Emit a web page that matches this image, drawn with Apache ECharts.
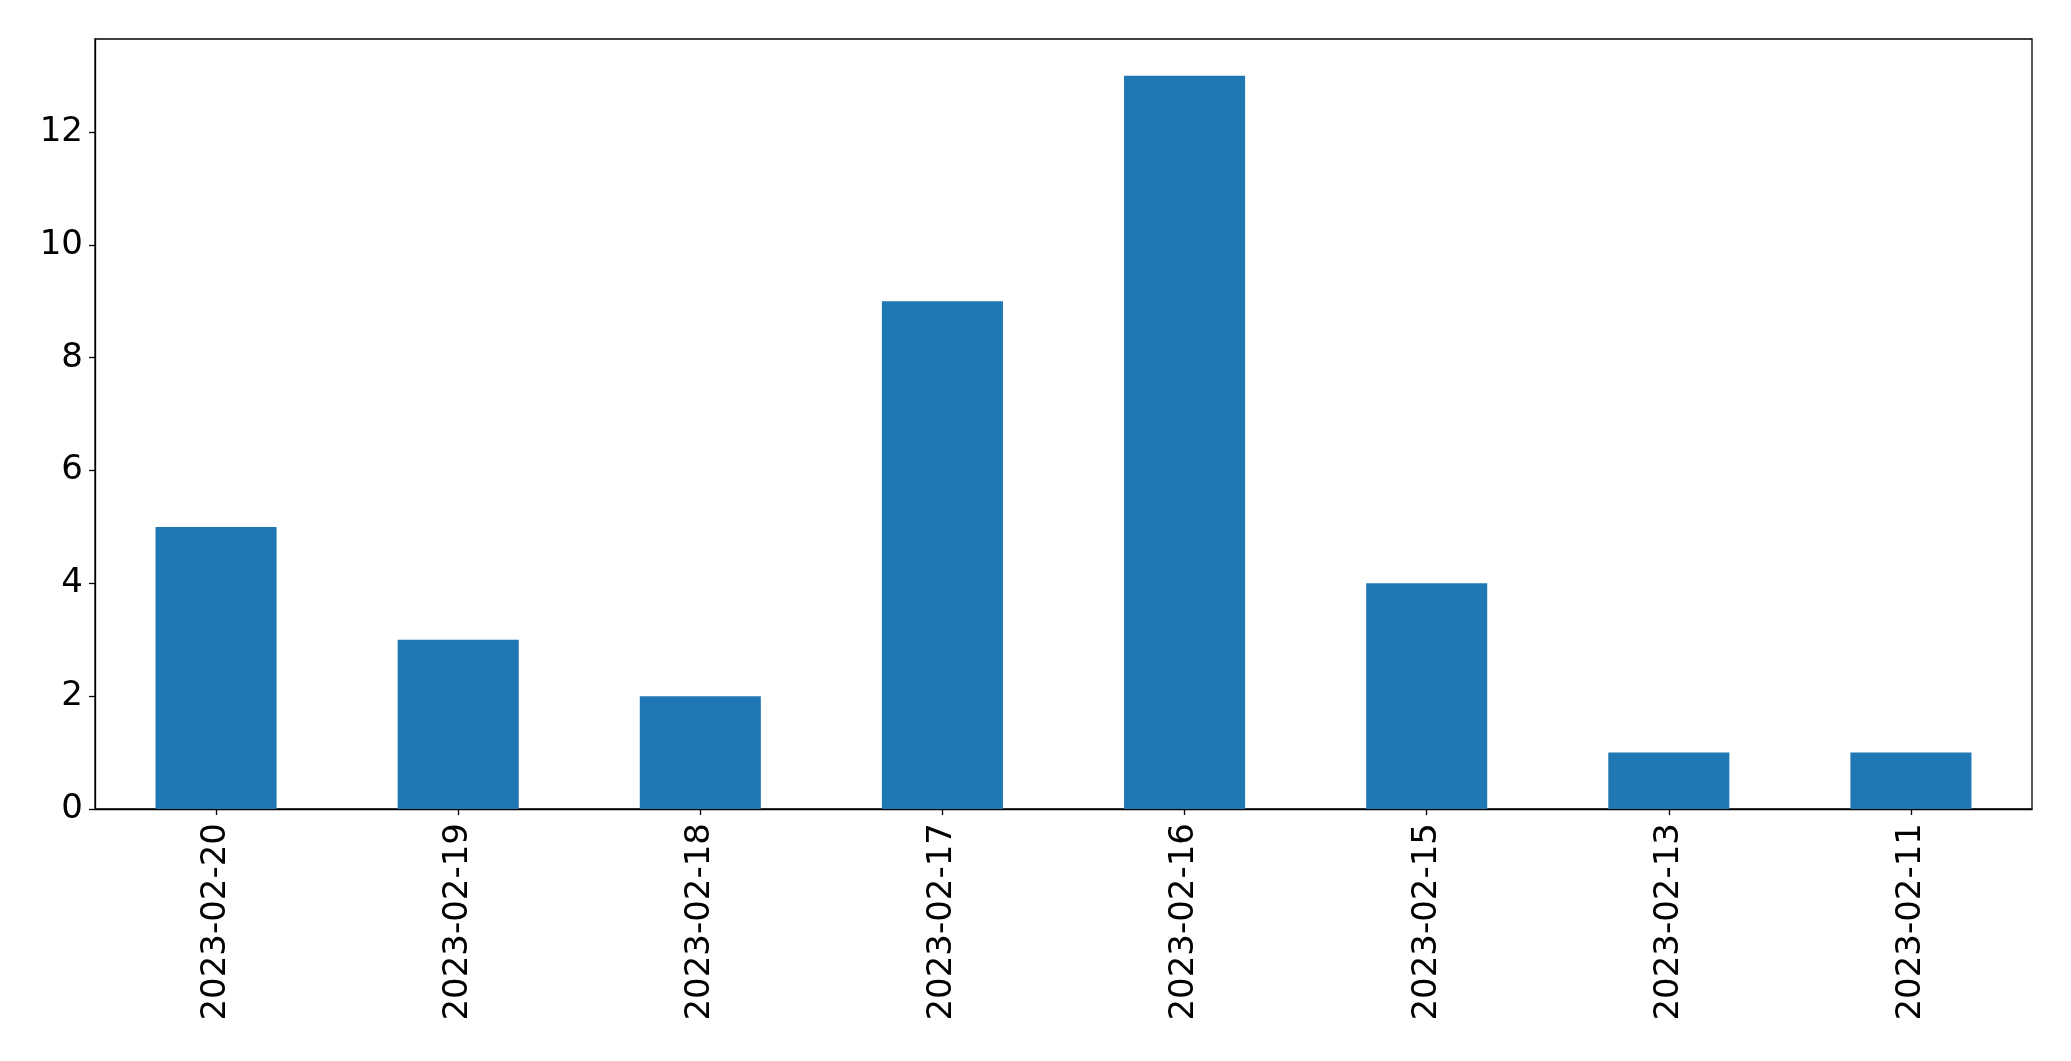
<!DOCTYPE html>
<html><head><meta charset="utf-8">
<script src="https://cdn.jsdelivr.net/npm/echarts@6/dist/echarts.min.js"></script>
<style>html,body{margin:0;padding:0;background:#fff}#c{width:2071px;height:1061px}</style>
</head><body><div id="c"></div>
<script>
const categories = ["2023-02-20","2023-02-19","2023-02-18","2023-02-17","2023-02-16","2023-02-15","2023-02-13","2023-02-11"];
const values = [5,3,2,9,13,4,1,1];
const yTicks = [0,2,4,6,8,10,12];
const chart = echarts.init(document.getElementById('c'), null, {renderer:'canvas'});
const font = 'DejaVu Sans';
chart.setOption({
  animation:false,
  grid:{left:95,right:39,top:39,bottom:252,show:true,borderColor:'#000',borderWidth:1.3,backgroundColor:'transparent'},
  xAxis:{type:'category',data:categories,
    axisLine:{show:true,lineStyle:{color:'#000',width:1.3}},
    axisTick:{show:true,alignWithLabel:true,length:6,lineStyle:{color:'#000',width:1.3}},
    axisLabel:{rotate:90,color:'#000',fontFamily:font,fontSize:34,margin:14,interval:0},
    splitLine:{show:false}},
  yAxis:{type:'value',min:0,max:13.65,interval:2,
    axisLine:{show:true,lineStyle:{color:'#000',width:1.3}},
    axisTick:{show:true,length:6,customValues:yTicks,lineStyle:{color:'#000',width:1.3}},
    axisLabel:{color:'#000',fontFamily:font,fontSize:34,margin:12,customValues:yTicks},
    splitLine:{show:false}},
  series:[{type:'bar',data:values,barWidth:'50%',itemStyle:{color:'#1f77b4'}}]
});
</script></body></html>
